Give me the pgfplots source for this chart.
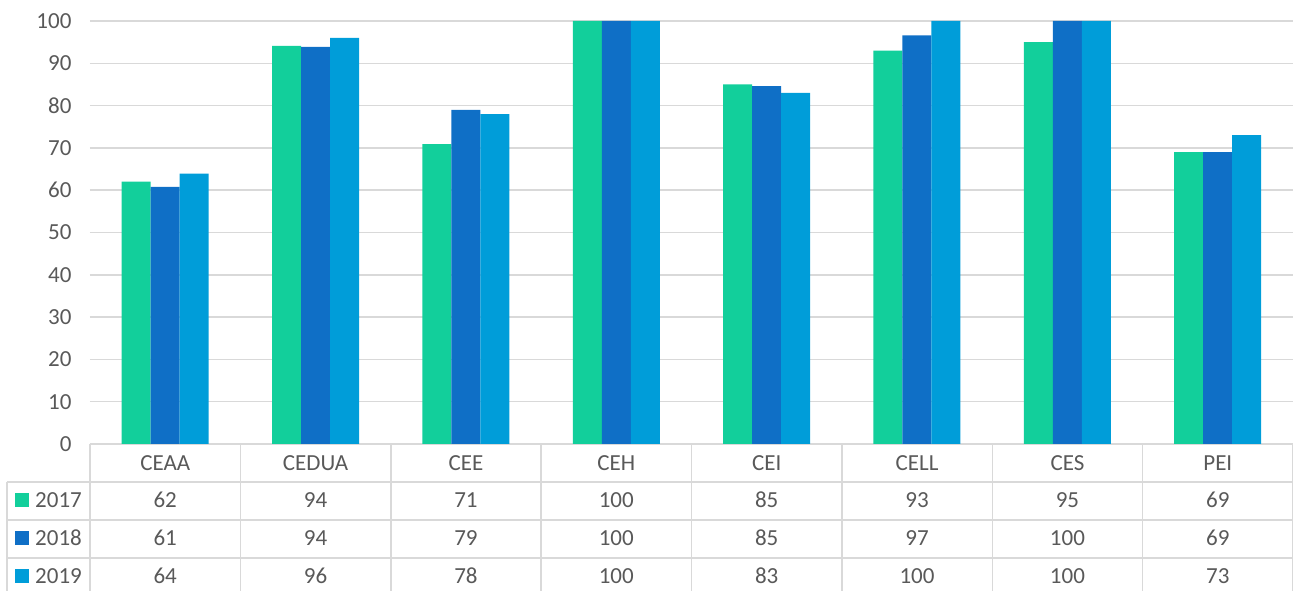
\documentclass[border=0pt]{standalone}
\usepackage{pgfplots}
\pgfplotsset{compat=1.18}
\usepackage{fontspec}
\setmainfont{Carlito}
\definecolor{cA}{HTML}{12CF9B}
\definecolor{cB}{HTML}{0F6FC6}
\definecolor{cC}{HTML}{009DD9}
\definecolor{txt}{HTML}{595959}
\definecolor{gridc}{HTML}{D9D9D9}

\begin{document}
\begin{tikzpicture}[font=\fontsize{23}{27}\selectfont]
\begin{axis}[
    at={(0pt,0pt)}, anchor=south west,
    scale only axis, width=1203pt, height=423pt,
    xmin=-0.5, xmax=7.5, ymin=0, ymax=100,
    ybar=0pt, bar width=29pt,
    axis line style={draw=none},
    xtick=\empty,
    ytick={0,10,...,100},
    ymajorgrids, grid style={gridc, line width=1.5pt},
    major tick length=0pt,
    /pgf/number format/assume math mode=true,
    tick label style={text=txt, font=\fontsize{23}{27}\selectfont},
    yticklabel style={xshift=-15pt},
]
\addplot[fill=cA, draw=none] coordinates {(0,62) (1,94.1) (2,70.9) (3,100) (4,85) (5,93) (6,95) (7,69)};
\addplot[fill=cB, draw=none] coordinates {(0,60.8) (1,93.9) (2,79) (3,100) (4,84.6) (5,96.6) (6,100) (7,69)};
\addplot[fill=cC, draw=none] coordinates {(0,63.9) (1,96) (2,78) (3,100) (4,83) (5,100) (6,100) (7,73)};
\end{axis}

% data table under the plot
\begin{scope}[gridc, line width=1.5pt]
  \foreach \i in {0,...,8} \draw ({\i*150.375pt},0pt) -- ({\i*150.375pt},-160pt);
  \draw (-83pt,-38pt) -- (-83pt,-160pt);
  \foreach \y in {-38,-76,-114} \draw (-83pt,\y pt) -- (1203pt,\y pt);
\end{scope}

\begin{scope}[text=txt]
  \foreach \n [count=\i from 0] in {CEAA,CEDUA,CEE,CEH,CEI,CELL,CES,PEI}
    \node at ({(\i+0.5)*150.375pt},-19pt) {\n};
  \foreach \v [count=\i from 0] in {62,94,71,100,85,93,95,69}
    \node at ({(\i+0.5)*150.375pt},-56pt) {\v};
  \foreach \v [count=\i from 0] in {61,94,79,100,85,97,100,69}
    \node at ({(\i+0.5)*150.375pt},-94pt) {\v};
  \foreach \v [count=\i from 0] in {64,96,78,100,83,100,100,73}
    \node at ({(\i+0.5)*150.375pt},-132pt) {\v};
  \foreach \yr/\c/\y in {2017/cA/-56,2018/cB/-94,2019/cC/-132} {
    \fill[\c] (-75pt,{\y*1pt-7pt}) rectangle (-61pt,{\y*1pt+7pt});
    \node[anchor=west, inner sep=0pt] at (-55pt,\y pt) {\yr};
  }
\end{scope}

\pgfresetboundingbox
\useasboundingbox (-90pt,-147pt) rectangle (1203pt,444pt);
\end{tikzpicture}
\end{document}
